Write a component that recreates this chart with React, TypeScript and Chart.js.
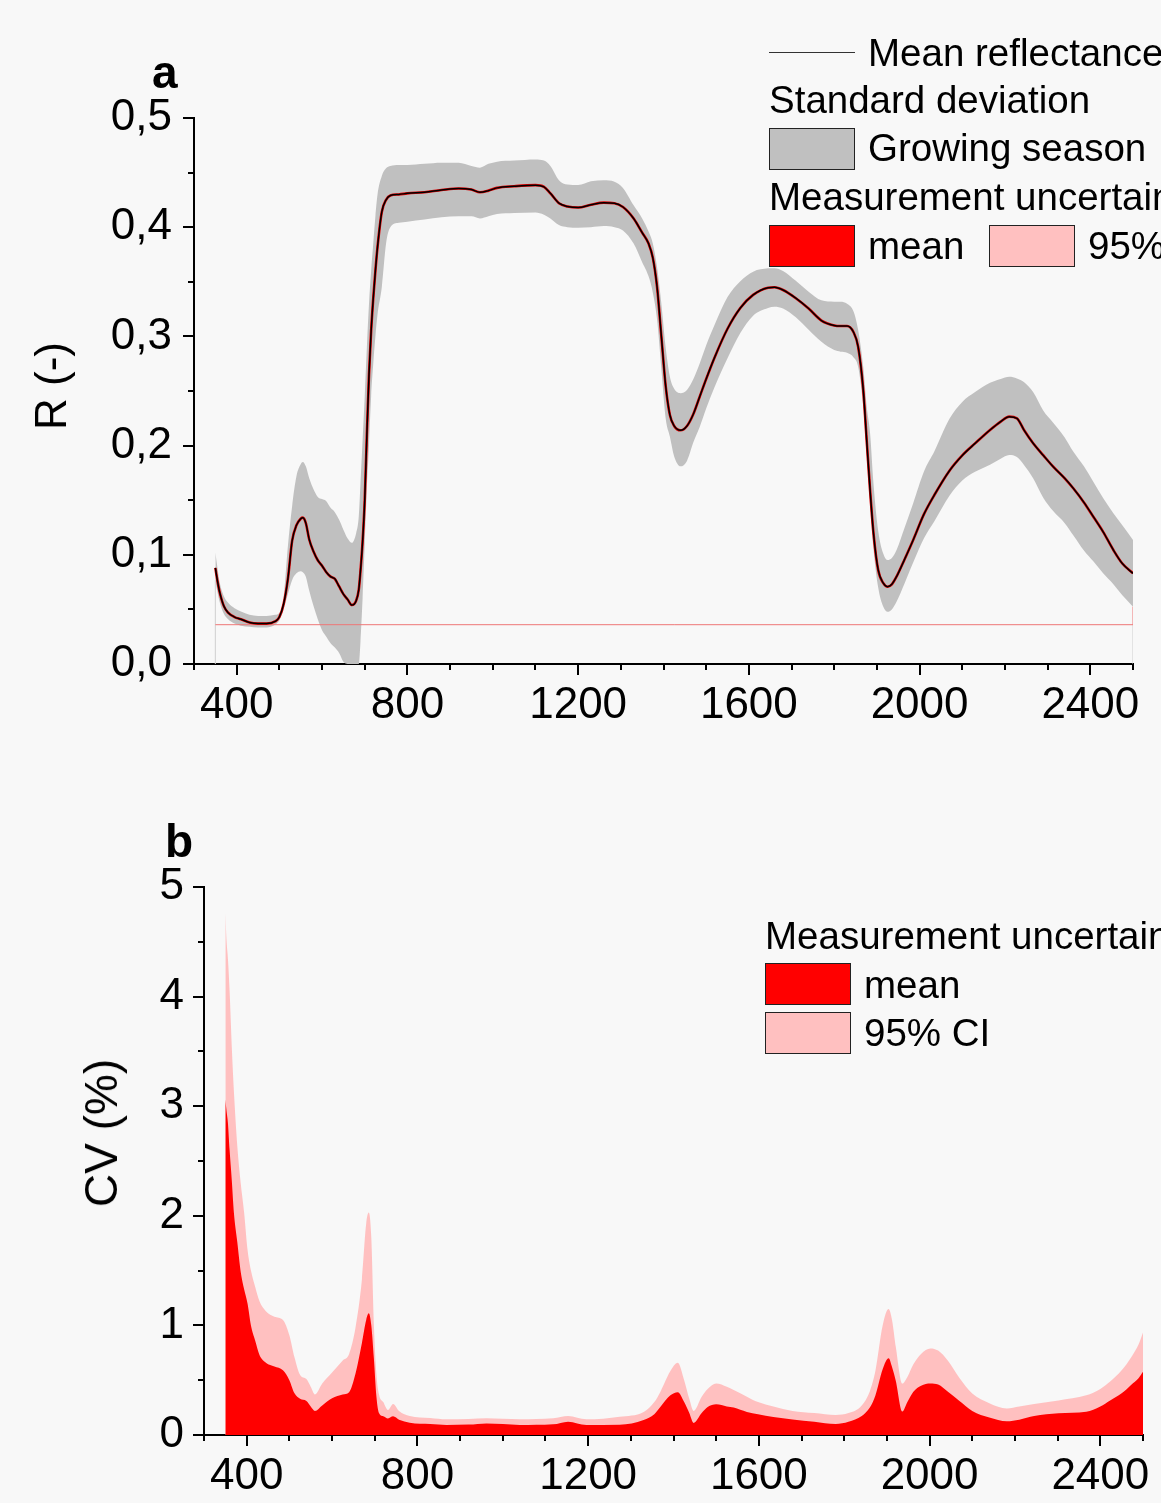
import React, { useEffect, useRef } from 'react';
import { Chart, registerables } from 'chart.js';

Chart.register(...registerables);

const FONT = "'Liberation Sans', Arial, Helvetica, sans-serif";

// ---------- Panel a: reflectance ----------
const WL_A = [350, 355, 360, 370, 380, 395, 410, 430, 450, 470, 490, 500, 510, 520, 530, 540, 550, 555, 562, 570, 580, 590, 600, 610, 620, 630, 640, 650, 660, 670, 680, 686, 690, 695, 700, 705, 710, 715, 720, 725, 730, 740, 750, 760, 780, 800, 840, 880, 920, 950, 970, 990, 1010, 1050, 1100, 1120, 1135, 1155, 1175, 1200, 1230, 1260, 1285, 1305, 1330, 1350, 1365, 1375, 1385, 1395, 1405, 1415, 1425, 1440, 1455, 1470, 1485, 1500, 1520, 1550, 1580, 1610, 1645, 1660, 1680, 1710, 1740, 1770, 1800, 1815, 1830, 1845, 1856, 1868, 1876, 1884, 1892, 1903, 1915, 1925, 1935, 1946, 1965, 1985, 2010, 2035, 2070, 2100, 2130, 2165, 2190, 2210, 2228, 2245, 2266, 2290, 2313, 2340, 2360, 2385, 2407, 2430, 2454, 2475, 2500];

const MEAN_R = [0.088, 0.076, 0.066, 0.053, 0.047, 0.043, 0.041, 0.038, 0.037, 0.037, 0.039, 0.043, 0.055, 0.078, 0.113, 0.127, 0.133, 0.134, 0.129, 0.114, 0.103, 0.095, 0.090, 0.084, 0.080, 0.078, 0.071, 0.064, 0.059, 0.054, 0.058, 0.068, 0.085, 0.112, 0.150, 0.210, 0.265, 0.305, 0.335, 0.360, 0.382, 0.414, 0.425, 0.429, 0.430, 0.431, 0.432, 0.434, 0.4355, 0.4345, 0.432, 0.4335, 0.436, 0.4375, 0.4385, 0.437, 0.431, 0.422, 0.419, 0.418, 0.4205, 0.4225, 0.422, 0.4185, 0.408, 0.395, 0.385, 0.372, 0.345, 0.300, 0.255, 0.228, 0.218, 0.214, 0.218, 0.229, 0.245, 0.261, 0.281, 0.307, 0.326, 0.338, 0.3446, 0.345, 0.3425, 0.335, 0.3255, 0.3145, 0.310, 0.3095, 0.3095, 0.304, 0.2906, 0.251, 0.2051, 0.1593, 0.1197, 0.0861, 0.074, 0.0708, 0.073, 0.080, 0.096, 0.1136, 0.137, 0.155, 0.177, 0.191, 0.202, 0.2143, 0.222, 0.2265, 0.225, 0.214, 0.2021, 0.191, 0.1807, 0.170, 0.1609, 0.148, 0.1349, 0.121, 0.1044, 0.092, 0.083];

const SD_UPPER = [0.102, 0.088, 0.075, 0.062, 0.056, 0.051, 0.048, 0.045, 0.044, 0.044, 0.045, 0.047, 0.060, 0.108, 0.145, 0.172, 0.183, 0.185, 0.181, 0.170, 0.160, 0.153, 0.151, 0.149, 0.143, 0.139, 0.132, 0.123, 0.115, 0.111, 0.120, 0.135, 0.165, 0.205, 0.245, 0.290, 0.330, 0.360, 0.385, 0.410, 0.430, 0.447, 0.454, 0.456, 0.457, 0.457, 0.458, 0.459, 0.459, 0.456, 0.4545, 0.458, 0.460, 0.461, 0.462, 0.461, 0.456, 0.443, 0.439, 0.4386, 0.442, 0.443, 0.4417, 0.436, 0.420, 0.408, 0.396, 0.385, 0.363, 0.330, 0.290, 0.263, 0.252, 0.248, 0.251, 0.261, 0.2755, 0.292, 0.311, 0.336, 0.3505, 0.3593, 0.3623, 0.3625, 0.360, 0.351, 0.341, 0.333, 0.3318, 0.3318, 0.330, 0.323, 0.306, 0.272, 0.236, 0.2113, 0.165, 0.122, 0.101, 0.0952, 0.097, 0.1044, 0.125, 0.1471, 0.176, 0.195, 0.2245, 0.240, 0.249, 0.2575, 0.261, 0.263, 0.2615, 0.258, 0.249, 0.232, 0.221, 0.2075, 0.1945, 0.181, 0.167, 0.152, 0.138, 0.127, 0.1136];

const SD_LOWER = [0.077, 0.066, 0.057, 0.046, 0.041, 0.037, 0.035, 0.034, 0.0335, 0.0335, 0.036, 0.040, 0.050, 0.064, 0.077, 0.083, 0.085, 0.084, 0.080, 0.067, 0.053, 0.041, 0.031, 0.025, 0.019, 0.015, 0.010, 0.002, 0, 0, 0, 0, 0.020, 0.060, 0.110, 0.160, 0.200, 0.245, 0.275, 0.300, 0.320, 0.345, 0.385, 0.400, 0.404, 0.405, 0.407, 0.409, 0.410, 0.410, 0.408, 0.410, 0.412, 0.413, 0.4135, 0.4115, 0.408, 0.402, 0.400, 0.3995, 0.400, 0.401, 0.400, 0.397, 0.385, 0.368, 0.355, 0.340, 0.315, 0.270, 0.225, 0.208, 0.190, 0.181, 0.186, 0.203, 0.2173, 0.234, 0.254, 0.280, 0.303, 0.319, 0.326, 0.3272, 0.3255, 0.3175, 0.306, 0.295, 0.2875, 0.286, 0.285, 0.281, 0.2723, 0.2356, 0.190, 0.145, 0.105, 0.070, 0.0525, 0.0479, 0.050, 0.057, 0.074, 0.093, 0.115, 0.131, 0.154, 0.168, 0.176, 0.1825, 0.188, 0.1914, 0.1895, 0.182, 0.170, 0.152, 0.140, 0.129, 0.118, 0.104, 0.094, 0.083, 0.073, 0.063, 0.0525];

// thin outline of the measurement-uncertainty layer in panel a
const UNC_BASE_X = [350, 2500, 2500];
const UNC_BASE_Y = [0.036, 0.036, 0.0525];
const EDGE_LEFT_X = [350, 350];
const EDGE_LEFT_Y = [0, 0.077];
const EDGE_RIGHT_X = [2500, 2500];
const EDGE_RIGHT_Y = [0, 0.036];

// ---------- Panel b: coefficient of variation ----------
const WL_B = [350, 353, 356, 360, 365, 370, 378, 386, 394, 402, 410, 420, 430, 445, 465, 485, 500, 512, 525, 540, 550, 560, 577, 600, 625, 640, 655, 670, 680, 686, 692, 698, 704, 710, 720, 731, 743, 757, 782, 830, 868, 920, 962, 1000, 1040, 1118, 1153, 1196, 1274, 1330, 1355, 1370, 1392, 1410, 1425, 1437, 1447, 1466, 1480, 1500, 1525, 1541, 1572, 1598, 1634, 1679, 1730, 1780, 1810, 1841, 1860, 1873, 1890, 1904, 1912, 1921, 1936, 1948, 1962, 1980, 2002, 2020, 2043, 2070, 2100, 2140, 2181, 2210, 2245, 2302, 2367, 2400, 2423, 2450, 2472, 2490, 2500];

const CV_MEAN = [3.06, 2.95, 2.85, 2.6, 2.33, 2.03, 1.76, 1.49, 1.33, 1.2, 1.0, 0.86, 0.73, 0.66, 0.625, 0.59, 0.5, 0.38, 0.33, 0.31, 0.26, 0.22, 0.27, 0.335, 0.37, 0.39, 0.56, 0.84, 1.05, 1.11, 1.0, 0.7, 0.35, 0.2, 0.17, 0.15, 0.17, 0.14, 0.112, 0.1, 0.091, 0.095, 0.106, 0.1, 0.091, 0.097, 0.122, 0.091, 0.094, 0.137, 0.19, 0.26, 0.36, 0.39, 0.3, 0.2, 0.11, 0.2, 0.255, 0.28, 0.26, 0.25, 0.21, 0.189, 0.165, 0.142, 0.12, 0.1, 0.12, 0.173, 0.25, 0.36, 0.6, 0.7, 0.62, 0.49, 0.214, 0.3, 0.394, 0.45, 0.47, 0.46, 0.394, 0.31, 0.22, 0.16, 0.126, 0.14, 0.173, 0.198, 0.211, 0.26, 0.315, 0.38, 0.457, 0.52, 0.576];

const CV_CI95 = [4.76, 4.5, 4.35, 4.05, 3.55, 3.14, 2.64, 2.3, 2.03, 1.69, 1.5, 1.35, 1.22, 1.13, 1.08, 1.05, 0.91, 0.71, 0.55, 0.51, 0.44, 0.37, 0.47, 0.57, 0.68, 0.74, 0.98, 1.42, 1.93, 2.03, 1.8, 1.01, 0.55, 0.37, 0.3, 0.228, 0.283, 0.22, 0.173, 0.155, 0.143, 0.145, 0.152, 0.148, 0.143, 0.152, 0.173, 0.143, 0.167, 0.21, 0.3, 0.4, 0.58, 0.66, 0.5, 0.33, 0.22, 0.35, 0.42, 0.47, 0.44, 0.41, 0.35, 0.3, 0.26, 0.22, 0.2, 0.183, 0.2, 0.27, 0.4, 0.583, 1.0, 1.15, 1.05, 0.8, 0.47, 0.53, 0.645, 0.74, 0.79, 0.77, 0.677, 0.52, 0.378, 0.29, 0.242, 0.26, 0.283, 0.315, 0.362, 0.42, 0.488, 0.59, 0.708, 0.83, 0.935];

// ---------- Tick labels ----------
const X_TICK_LABELS = [400, 800, 1200, 1600, 2000, 2400];
const Y_TICK_LABELS_A = ['0,0', '0,1', '0,2', '0,3', '0,4', '0,5'];
const Y_TICK_LABELS_B = ['0', '1', '2', '3', '4', '5'];

const pts = (xs: number[], ys: number[]) => xs.map((x, i) => ({ x, y: ys[i] }));

function makeTickPlugin(isMajorX: (v: number) => boolean, isMajorY: (v: number) => boolean) {
  return {
    id: 'tickMarks',
    afterDraw(chart: any) {
      const { ctx, chartArea } = chart;
      const xs = chart.scales.x;
      const ys = chart.scales.y;
      ctx.save();
      ctx.strokeStyle = '#000';
      ctx.lineWidth = 2;
      ctx.beginPath();
      xs.ticks.forEach((t: any) => {
        const p = Math.round(xs.getPixelForValue(t.value));
        const len = isMajorX(t.value) ? 11 : 6;
        ctx.moveTo(p, chartArea.bottom);
        ctx.lineTo(p, chartArea.bottom + len);
      });
      ys.ticks.forEach((t: any) => {
        const p = Math.round(ys.getPixelForValue(t.value));
        const len = isMajorY(t.value) ? 11 : 6;
        ctx.moveTo(chartArea.left - len, p);
        ctx.lineTo(chartArea.left, p);
      });
      ctx.stroke();
      ctx.restore();
    },
  };
}

const isMajorX = (v: number) => X_TICK_LABELS.includes(Math.round(v));
const isMajorYA = (v: number) => Math.abs(v * 10 - Math.round(v * 10)) < 1e-6;
const isMajorYB = (v: number) => Math.abs(v - Math.round(v)) < 1e-6;

function xScale(yAxisHeight: number) {
  return {
    type: 'linear' as const,
    min: 300,
    max: 2500,
    grid: { display: false, drawTicks: false },
    border: { display: true, color: '#000', width: 2 },
    ticks: {
      stepSize: 100,
      autoSkip: false,
      maxRotation: 0,
      minRotation: 0,
      padding: 15,
      color: '#000',
      font: { family: FONT, size: 44 },
      callback: (v: any) => (isMajorX(Number(v)) ? String(Math.round(Number(v))) : ''),
    },
    afterFit: (s: any) => {
      s.height = yAxisHeight;
    },
  };
}

function baseOptions() {
  return {
    responsive: false,
    maintainAspectRatio: false,
    animation: false as const,
    events: [] as any[],
    plugins: { legend: { display: false }, tooltip: { enabled: false }, title: { display: false } },
  };
}

export default function App() {
  const refA = useRef<HTMLCanvasElement>(null);
  const refB = useRef<HTMLCanvasElement>(null);

  useEffect(() => {
    const line = { pointRadius: 0, cubicInterpolationMode: 'monotone' as const };
    const chartA = new Chart(refA.current!, {
      type: 'line',
      data: {
        datasets: [
          { label: 'SD upper', data: pts(WL_A, SD_UPPER), ...line, borderWidth: 0, borderColor: 'rgba(0,0,0,0)', backgroundColor: '#c0c0c0', fill: '+1', order: 10 },
          { label: 'SD lower', data: pts(WL_A, SD_LOWER), ...line, borderWidth: 0, borderColor: 'rgba(0,0,0,0)', fill: false, order: 10 },
          { label: 'edge left', data: pts(EDGE_LEFT_X, EDGE_LEFT_Y), pointRadius: 0, borderWidth: 1, borderColor: '#cfcfcf', fill: false, order: 6 },
          { label: 'edge right', data: pts(EDGE_RIGHT_X, EDGE_RIGHT_Y), pointRadius: 0, borderWidth: 1, borderColor: '#cfcfcf', fill: false, order: 6 },
          { label: 'uncertainty base', data: pts(UNC_BASE_X, UNC_BASE_Y), pointRadius: 0, borderWidth: 1, borderColor: '#ee7777', fill: false, order: 5 },
          { label: 'Measurement uncertainty', data: pts(WL_A, MEAN_R), ...line, borderWidth: 2.6, borderColor: '#e00000', fill: false, order: 2 },
          { label: 'Mean reflectance', data: pts(WL_A, MEAN_R), ...line, borderWidth: 1.5, borderColor: '#000000', fill: false, order: 1 },
        ],
      },
      options: {
        ...baseOptions(),
        layout: { padding: { left: 0, top: 118, right: 28, bottom: 16 } },
        scales: {
          x: xScale(70),
          y: {
            type: 'linear',
            min: 0,
            max: 0.5,
            grid: { display: false, drawTicks: false },
            border: { display: true, color: '#000', width: 2 },
            ticks: {
              stepSize: 0.05,
              autoSkip: false,
              padding: 22,
              color: '#000',
              font: { family: FONT, size: 44 },
              callback: (v: any) => (isMajorYA(Number(v)) ? Y_TICK_LABELS_A[Math.round(Number(v) * 10)] : ''),
            },
            afterFit: (s: any) => {
              s.width = 194;
            },
          },
        },
      } as any,
      plugins: [makeTickPlugin(isMajorX, isMajorYA)],
    });

    const chartB = new Chart(refB.current!, {
      type: 'line',
      data: {
        datasets: [
          { label: '95% CI', data: pts(WL_B, CV_CI95), ...line, borderWidth: 0, borderColor: 'rgba(0,0,0,0)', backgroundColor: '#ffc0c0', fill: 'origin', order: 2 },
          { label: 'mean', data: pts(WL_B, CV_MEAN), ...line, borderWidth: 0, borderColor: 'rgba(0,0,0,0)', backgroundColor: '#ff0000', fill: 'origin', order: 1 },
        ],
      },
      options: {
        ...baseOptions(),
        layout: { padding: { left: 0, top: 127, right: 18, bottom: 0 } },
        scales: {
          x: xScale(68),
          y: {
            type: 'linear',
            min: 0,
            max: 5,
            grid: { display: false, drawTicks: false },
            border: { display: true, color: '#000', width: 2 },
            ticks: {
              stepSize: 0.5,
              autoSkip: false,
              padding: 20,
              color: '#000',
              font: { family: FONT, size: 44 },
              callback: (v: any) => (isMajorYB(Number(v)) ? Y_TICK_LABELS_B[Math.round(Number(v))] : ''),
            },
            afterFit: (s: any) => {
              s.width = 204;
            },
          },
        },
      } as any,
      plugins: [makeTickPlugin(isMajorX, isMajorYB)],
    });

    return () => {
      chartA.destroy();
      chartB.destroy();
    };
  }, []);

  const txt = (x: number, baseline: number, size: number, text: string, bold = false) => (
    <div
      style={{
        position: 'absolute',
        left: x,
        top: baseline - 0.8465 * size,
        fontSize: size,
        lineHeight: `${size}px`,
        fontWeight: bold ? 'bold' : 'normal',
        whiteSpace: 'nowrap',
      }}
    >
      {text}
    </div>
  );

  const box = (x: number, y: number, color: string) => (
    <div
      style={{
        position: 'absolute',
        left: x,
        top: y,
        width: 86,
        height: 42,
        boxSizing: 'border-box',
        background: color,
        border: '1.5px solid #222',
      }}
    />
  );

  const vtitle = (cx: number, cy: number, size: number, text: string) => (
    <div
      style={{
        position: 'absolute',
        left: cx,
        top: cy,
        fontSize: size,
        lineHeight: `${size}px`,
        whiteSpace: 'nowrap',
        transform: 'translate(-50%, -50%) rotate(-90deg)',
      }}
    >
      {text}
    </div>
  );

  return (
    <div
      style={{
        position: 'absolute',
        left: 0,
        top: 0,
        width: 1161,
        height: 1503,
        overflow: 'hidden',
        background: '#f8f8f8',
        fontFamily: FONT,
        color: '#000',
      }}
    >
      <canvas ref={refA} width={1161} height={750} style={{ position: 'absolute', left: 0, top: 0 }} />
      <canvas ref={refB} width={1161} height={743} style={{ position: 'absolute', left: 0, top: 760 }} />

      {/* panel a labels */}
      {txt(152, 88, 46, 'a', true)}
      {vtitle(51, 386, 44, 'R (-)')}
      <div style={{ position: 'absolute', left: 769, top: 52, width: 86, height: 0, borderTop: '1px solid #333' }} />
      {txt(868, 66.7, 38.5, 'Mean reflectance')}
      {txt(769, 114, 38.5, 'Standard deviation')}
      {box(769, 128, '#c0c0c0')}
      {txt(868, 161.7, 38.5, 'Growing season')}
      {txt(769, 211, 38.5, 'Measurement uncertainty')}
      {box(769, 225, '#ff0000')}
      {txt(868, 260, 38.5, 'mean')}
      {box(989, 225, '#ffc0c0')}
      {txt(1088, 260, 38.5, '95% CI')}

      {/* panel b labels */}
      {txt(165, 857, 46, 'b', true)}
      {vtitle(101, 1133, 46, 'CV (%)')}
      {txt(765, 950, 38.5, 'Measurement uncertainty')}
      {box(765, 963, '#ff0000')}
      {txt(864, 998.3, 38.5, 'mean')}
      {box(765, 1012, '#ffc0c0')}
      {txt(864, 1046.7, 38.5, '95% CI')}
    </div>
  );
}
